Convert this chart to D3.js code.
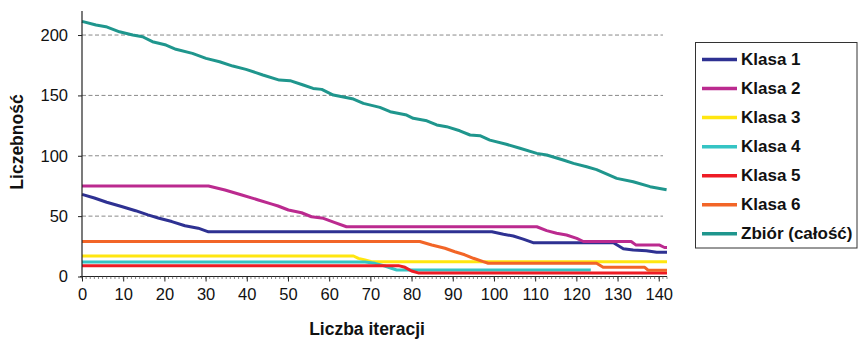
<!DOCTYPE html>
<html><head><meta charset="utf-8">
<script src="https://cdn.jsdelivr.net/npm/d3@7"></script>
<style>body{margin:0;background:#fff}svg{display:block}text{font-family:Arial,"Liberation Sans",sans-serif;fill:#111}</style>
</head><body><svg id="c" width="858" height="341"></svg>
<script>
// ---- data (iteration, count) ----
const seriesNames = ["Klasa 1","Klasa 2","Klasa 3","Klasa 4","Klasa 5","Klasa 6","Zbiór (całość)"];
const seriesColors = ["#2e3192","#bb2a8f","#ffe610","#35c4c4","#ee1c25","#f26527","#1f968d"];
const klasa1 = [[0,68],[3,65],[6,61.5],[9.6,58],[13,54.5],[16,51],[18.5,48.5],[21.8,45.5],[25,42],[28.2,40],[30.7,37],[99.5,37],[102.3,35],[104.7,33.5],[107.1,31],[109.5,28],[129,28],[131.4,23],[133.8,22],[137,21.4],[139.5,20],[142,20]];
const klasa2 = [[0,75],[30.7,75],[34.7,71.6],[38.8,67.5],[42.8,63.4],[46.1,60],[47.6,58.4],[50.1,55.1],[53.3,52.8],[55.7,49.5],[58.6,48.2],[61.4,44.6],[64.2,41.2],[110.4,41.2],[112.8,38],[115.2,35.8],[117.6,34.4],[120.1,31.6],[121.7,29],[133.3,29],[134.5,26],[140.2,26],[141.4,24],[142,24]];
const klasa3 = [[0,17],[65.9,17],[67.1,15],[68.7,13.7],[70.3,12.2],[142,12.2]];
const klasa4 = [[0,12],[68.7,12],[71.1,10.9],[73.5,8.7],[75.1,6.8],[76.4,5.4],[123.5,5.4]];
const klasa5 = [[0,9],[76.8,9],[78.4,7.6],[80,4.5],[81.6,3],[142,3]];
const klasa6 = [[0,29],[82,29],[84.9,26.1],[88.1,23.4],[90.5,20.5],[92.9,18],[95,15.1],[97.4,12.3],[98.6,11],[124.9,11],[126.5,7.6],[136.6,7.6],[137.4,5.2],[142,5.2]];
const zbior = [[0,211.3],[3.4,208.3],[5.8,206.9],[9.1,202.7],[12.3,200],[14.7,198.6],[17.1,194.5],[20.4,191.7],[22.8,188.2],[26.8,184.8],[30.1,180.7],[33.4,177.9],[36.6,174.3],[39.8,171.6],[43.9,166.9],[47.9,162.7],[50.5,162.2],[53.7,158.6],[56.1,155.8],[58.2,155],[61,150.3],[65.9,147],[68.3,143.4],[72.3,140.1],[74.8,136.5],[78.8,133.7],[80.4,131],[83.7,129],[86.1,125.5],[88.5,124.1],[91.7,120.7],[94.2,117.2],[96.6,116.6],[99,113],[103,109.5],[106.3,106.2],[110.4,102],[112.8,100.6],[116.8,96.5],[119.3,93.7],[122.5,90.9],[124.9,88.5],[129.8,81.3],[133.8,78.5],[137.9,74.4],[141.9,71.8]];
const allSeries = [klasa1,klasa2,klasa3,klasa4,klasa5,klasa6,zbior];
const xTicks = d3.range(0,141,10);
const yTicks = [0,50,100,150,200];
const xMinor = d3.range(0,143,1);
const xTitle = "Liczba iteracji", yTitle = "Liczebność";

// ---- drawing ----
const svg = d3.select("#c");
const x = d3.scaleLinear().domain([0,142]).range([82,667]);
const y = d3.scaleLinear().domain([0,220]).range([276.5,10.9]);

// grid
svg.append("g").selectAll("line").data(yTicks.filter(d=>d>0)).join("line")
  .attr("x1",x(0)).attr("x2",663).attr("y1",d=>y(d)).attr("y2",d=>y(d))
  .attr("stroke","#8a8a8a").attr("stroke-width",1).attr("stroke-dasharray","4,2.5");

// series
const line = d3.line().x(d=>x(d[0])).y(d=>y(d[1]));
svg.append("g").selectAll("path").data(allSeries).join("path")
  .attr("d",line).attr("fill","none")
  .attr("stroke",(d,i)=>seriesColors[i]).attr("stroke-width",3)
  .attr("stroke-linejoin","round");

// axes
const ax = svg.append("g").attr("transform",`translate(0,${y(0)})`)
  .call(d3.axisBottom(x).tickValues(xTicks).tickSize(5).tickPadding(7).tickFormat(d3.format("d")));
ax.selectAll("text").attr("font-size","16.5px");
svg.append("g").attr("transform",`translate(0,${y(0)})`).selectAll("line").data(xMinor).join("line")
  .attr("x1",d=>x(d)).attr("x2",d=>x(d)).attr("y1",0).attr("y2",2.5).attr("stroke","#555").attr("stroke-width",0.7);
const ay = svg.append("g").attr("transform",`translate(${x(0)},0)`)
  .call(d3.axisLeft(y).tickValues(yTicks).tickSize(4).tickPadding(10).tickFormat(d3.format("d")));
ay.selectAll("text").attr("font-size","16.5px");
[ax,ay].forEach(a=>{a.selectAll("path,line").attr("stroke","#222");a.select(".domain").attr("stroke-width",1.2);a.selectAll("text").attr("fill","#111").style("font-family","Arial,'Liberation Sans',sans-serif");});
ay.select(".domain").attr("d",`M0,${y(0)}V${y(220)}`);
ax.select(".domain").attr("d",`M${x(0)-2},0H${x(142)}`);

// titles
svg.append("text").attr("x",367).attr("y",335).attr("text-anchor","middle")
  .attr("font-size","17.5px").attr("font-weight","bold").text(xTitle);
svg.append("text").attr("transform","translate(23,142) rotate(-90)").attr("text-anchor","middle")
  .attr("font-size","17.5px").attr("font-weight","bold").text(yTitle);

// legend
const lg = svg.append("g");
lg.append("rect").attr("x",695.5).attr("y",42.5).attr("width",161.5).attr("height",205.5)
  .attr("fill","#fff").attr("stroke","#333").attr("stroke-width",1);
const rows = lg.selectAll("g.r").data(seriesNames).join("g").attr("class","r")
  .attr("transform",(d,i)=>`translate(0,${58.5+i*29.05})`);
rows.append("line").attr("x1",702).attr("x2",737).attr("y1",1).attr("y2",1)
  .attr("stroke",(d,i)=>seriesColors[i]).attr("stroke-width",3.5);
rows.append("text").attr("x",741).attr("y",6).attr("font-size","17px").attr("font-weight","bold").text(d=>d);
</script></body></html>
